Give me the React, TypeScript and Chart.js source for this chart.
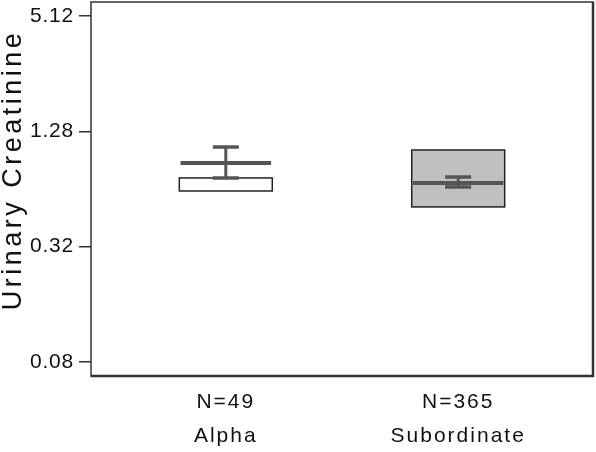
import React, { useEffect, useRef } from "react";
import { Chart, registerables } from "chart.js";

Chart.register(...registerables);

const categories = ["Alpha", "Subordinate"];
const nLabels = ["N=49", "N=365"];
const boxLow = [0.625, 0.516];
const boxHigh = [0.731, 1.023];
const means = [0.875, 0.688];
const errLow = [0.731, 0.656];
const errHigh = [1.061, 0.74];
const boxFills = ["#ffffff", "#c0c0c0"];
const yTicks = [0.08, 0.32, 1.28, 5.12];
const yTitle = "Urinary Creatinine";

const FONT = "'Liberation Sans', Arial, sans-serif";
const Y_SPACING = "0.8px";
const X_SPACING = "2px";

const spacingPlugin = {
  id: "spacing",
  beforeUpdate(c: any) { c.ctx.letterSpacing = Y_SPACING; },
  beforeLayout(c: any) { c.ctx.letterSpacing = Y_SPACING; },
  beforeDraw(c: any) { c.ctx.letterSpacing = Y_SPACING; },
};

const boxPlugin = {
  id: "boxes",
  afterDatasetsDraw(c: any) {
    const ctx = c.ctx;
    const xs = c.scales.x;
    const ys = c.scales.y;
    ctx.save();
    categories.forEach((_, i) => {
      const v = i + 1;
      const l = xs.getPixelForValue(v - 0.2);
      const r = xs.getPixelForValue(v + 0.2);
      const t = ys.getPixelForValue(boxHigh[i]);
      const b = ys.getPixelForValue(boxLow[i]);
      ctx.fillStyle = boxFills[i];
      ctx.fillRect(l, t, r - l, b - t);
      ctx.strokeStyle = "#222";
      ctx.lineWidth = 1.5;
      ctx.strokeRect(l, t, r - l, b - t);
      // mean line
      const ml = xs.getPixelForValue(v - 0.195);
      const mr = xs.getPixelForValue(v + 0.195);
      const my = ys.getPixelForValue(means[i]);
      ctx.strokeStyle = "#555";
      ctx.lineWidth = 4;
      ctx.beginPath();
      ctx.moveTo(ml, my);
      ctx.lineTo(mr, my);
      ctx.stroke();
      // error bar
      const cx = xs.getPixelForValue(v);
      const cl = xs.getPixelForValue(v - 0.056);
      const cr = xs.getPixelForValue(v + 0.056);
      const et = ys.getPixelForValue(errHigh[i]);
      const eb = ys.getPixelForValue(errLow[i]);
      ctx.lineWidth = 3;
      ctx.beginPath();
      ctx.moveTo(cx, et);
      ctx.lineTo(cx, eb);
      ctx.stroke();
      ctx.lineWidth = 3.5;
      ctx.beginPath();
      ctx.moveTo(cl, et);
      ctx.lineTo(cr, et);
      ctx.moveTo(cl, eb);
      ctx.lineTo(cr, eb);
      ctx.stroke();
    });
    ctx.restore();
    // x labels (drawn in a later layer) use wider spacing
    ctx.letterSpacing = X_SPACING;
  },
  afterDraw(c: any) {
    const ctx = c.ctx;
    const a = c.chartArea;
    ctx.save();
    ctx.strokeStyle = "#333";
    ctx.lineWidth = 1.5;
    ctx.strokeRect(a.left, a.top, a.right - a.left, a.bottom - a.top);
    ctx.lineWidth = 2.5;
    ctx.beginPath();
    ctx.moveTo(a.right, a.top);
    ctx.lineTo(a.right, a.bottom);
    ctx.lineTo(a.left, a.bottom);
    ctx.stroke();
    // y title
    ctx.fillStyle = "#111";
    ctx.font = `27px ${FONT}`;
    ctx.letterSpacing = "3.5px";
    ctx.textAlign = "center";
    ctx.textBaseline = "alphabetic";
    ctx.translate(21, 170);
    ctx.rotate(-Math.PI / 2);
    ctx.fillText(yTitle, 0, 0);
    ctx.restore();
  },
};

export default function App() {
  const ref = useRef<HTMLCanvasElement | null>(null);
  useEffect(() => {
    document.body.style.margin = "0";
    const canvas = ref.current!;
    const chart = new Chart(canvas, {
      type: "scatter",
      data: {
        datasets: [
          {
            data: categories.map((_, i) => ({ x: i + 1, y: means[i] })),
            pointRadius: 0,
            showLine: false,
          },
        ],
      },
      options: {
        animation: false,
        responsive: false,
        events: [],
        layout: { padding: { top: 2, right: 3, left: 0, bottom: 0 } },
        plugins: { legend: { display: false }, tooltip: { enabled: false } },
        scales: {
          x: {
            type: "linear",
            min: 0.42,
            max: 2.58,
            afterBuildTicks: (s: any) => {
              s.ticks = categories.map((_, i) => ({ value: i + 1 }));
            },
            afterFit: (s: any) => {
              s.height = 76;
              s.paddingLeft = 0;
              s.paddingRight = 0;
            },
            grid: { display: false, drawTicks: false },
            border: { display: false },
            ticks: {
              z: 1,
              color: "#111",
              padding: 9,
              maxRotation: 0,
              autoSkip: false,
              font: { family: FONT, size: 21, lineHeight: 1.62 },
              callback: (v: any) => {
                const i = Math.round(Number(v)) - 1;
                return [nLabels[i], categories[i]];
              },
            },
          },
          y: {
            type: "logarithmic",
            min: 0.0676,
            max: 6.06,
            afterBuildTicks: (s: any) => {
              s.ticks = yTicks.map((v) => ({ value: v }));
            },
            afterFit: (s: any) => {
              s.width = 91;
              s.paddingTop = 0;
              s.paddingBottom = 0;
            },
            border: { display: false },
            grid: {
              display: true,
              drawOnChartArea: false,
              drawTicks: true,
              tickLength: 12,
              color: "#333",
              lineWidth: 1.5,
            },
            ticks: {
              color: "#111",
              padding: 5,
              autoSkip: false,
              font: { family: FONT, size: 21 },
              callback: (v: any) => Number(v).toFixed(2),
            },
          },
        },
      },
      plugins: [spacingPlugin, boxPlugin],
    } as any);
    return () => chart.destroy();
  }, []);
  return (
    <div style={{ width: 596, height: 452 }}>
      <canvas ref={ref} width={596} height={452} style={{ display: "block" }} />
    </div>
  );
}
